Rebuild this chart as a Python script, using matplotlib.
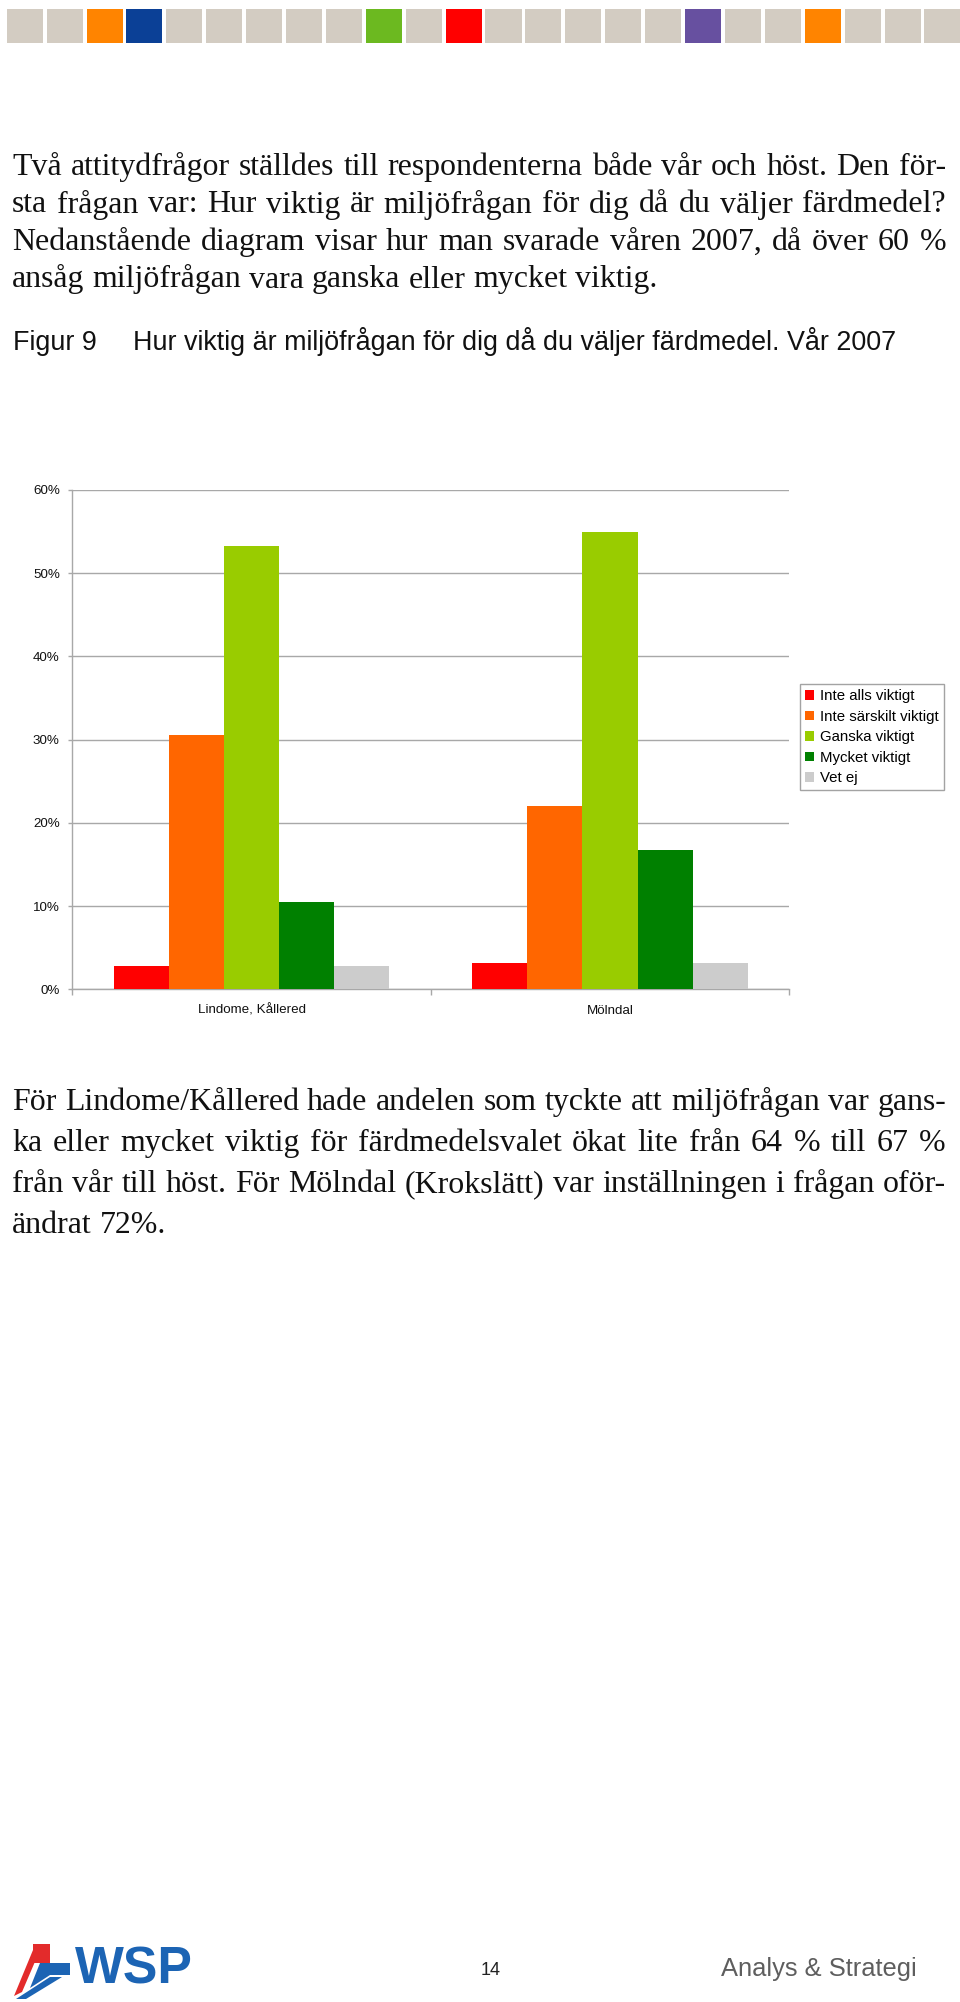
import numpy as np
import matplotlib
matplotlib.use("Agg")
import matplotlib.pyplot as plt
from matplotlib.font_manager import FontProperties
from matplotlib.patches import Rectangle, Polygon
from matplotlib.transforms import Affine2D

W, H = 960, 2002

# chart data (percent)
categories = ["Lindome, Kållered", "Mölndal"]
series_names = ["Inte alls viktigt", "Inte särskilt viktigt", "Ganska viktigt",
                "Mycket viktigt", "Vet ej"]
inte_alls = [2.8, 3.2]
inte_sarskilt = [30.5, 22.0]
ganska = [53.3, 54.9]
mycket = [10.5, 16.7]
vet_ej = [2.8, 3.2]
series_colors = ["#ff0000", "#ff6600", "#99cc00", "#008000", "#cccccc"]
yticks = [0, 10, 20, 30, 40, 50, 60]
ytick_labels = ["0%", "10%", "20%", "30%", "40%", "50%", "60%"]

# page text
para1 = ["Två attitydfrågor ställdes till respondenterna både vår och höst. Den för-",
         "sta frågan var: Hur viktig är miljöfrågan för dig då du väljer färdmedel?",
         "Nedanstående diagram visar hur man svarade våren 2007, då över 60 %",
         "ansåg miljöfrågan vara ganska eller mycket viktig."]
para2 = ["För Lindome/Kållered hade andelen som tyckte att miljöfrågan var gans-",
         "ka eller mycket viktig för färdmedelsvalet ökat lite från 64 % till 67 %",
         "från vår till höst. För Mölndal (Krokslätt) var inställningen i frågan oför-",
         "ändrat 72%."]
fig_label = "Figur 9"
fig_title = "Hur viktig är miljöfrågan för dig då du väljer färdmedel. Vår 2007"

# header strip colours
strip_colors = ["#d3ccc2"] * 24
strip_colors[2] = "#ff8400"
strip_colors[3] = "#0b4096"
strip_colors[9] = "#6cb920"
strip_colors[11] = "#ff0000"
strip_colors[17] = "#6750a0"
strip_colors[20] = "#ff8400"

plt.rcParams["font.family"] = ["Liberation Sans", "DejaVu Sans"]

fig = plt.figure(figsize=(W / 100, H / 100), dpi=100)
fig.patch.set_facecolor("white")
renderer = fig.canvas.get_renderer()
# pixel coords, origin top-left
pix = Affine2D().scale(1 / W, -1 / H).translate(0, 1) + fig.transFigure


def tw(s, fp):
    w, h, d = renderer.get_text_width_height_descent(s, fp, ismath=False)
    return w


def fit_size(s, family, width, weight="normal"):
    fp = FontProperties(family=family, size=10, weight=weight)
    return 10 * width / tw(s, fp)


def put_line(s, x0, x1, y, fp, justify, color="#111111"):
    words = s.split(" ")
    widths = [tw(w, fp) for w in words]
    if justify and len(words) > 1:
        gap = (x1 - x0 - sum(widths)) / (len(words) - 1)
    else:
        gap = tw("a b", fp) - tw("ab", fp)
    x = x0
    for w, wd in zip(words, widths):
        fig.text(x / W, 1 - y / H, w, fontproperties=fp, ha="left",
                 va="baseline", color=color)
        x += wd + gap


# header strip
for i, c in enumerate(strip_colors):
    fig.patches.append(Rectangle((6.7 + 39.9 * i, 9), 36, 34, transform=pix,
                                 facecolor=c, edgecolor="none"))

# body text (serif, justified)
serif = "Liberation Serif"
x_left, x_right = 12, 946
fp0 = FontProperties(family=serif, size=20)
space0 = tw("a b", fp0) - tw("ab", fp0)
nat = max(sum(tw(w, fp0) for w in l.split(" ")) + space0 * (len(l.split(" ")) - 1)
          for l in para1[:-1] + para2[:-1])
body_size = 20 * (x_right - x_left) * 0.995 / nat
fp_body = FontProperties(family=serif, size=body_size)

for i, line in enumerate(para1):
    put_line(line, x_left, x_right, 175 + 37.5 * i, fp_body, i < len(para1) - 1)
for i, line in enumerate(para2):
    put_line(line, x_left, x_right, 1110 + 41 * i, fp_body, i < len(para2) - 1)

# figure caption
cap_size = fit_size(fig_title, "Liberation Sans", 766)
fig.text(13 / W, 1 - 350 / H, fig_label, fontsize=cap_size, ha="left",
         va="baseline", color="#111111")
fig.text(133 / W, 1 - 350 / H, fig_title, fontsize=cap_size, ha="left",
         va="baseline", color="#111111")

# chart
ax = fig.add_axes([72.3 / W, 1 - 989.3 / H, 717 / W, 499.5 / H])
series = [inte_alls, inte_sarskilt, ganska, mycket, vet_ej]
x = np.arange(len(categories)) + 0.5
bw = 0.1537
for i, (vals, c, name) in enumerate(zip(series, series_colors, series_names)):
    ax.bar(x + (i - 2) * bw, vals, width=bw, color=c, label=name,
           edgecolor="none", zorder=3)

grid_c = "#a8a8a8"
ax.set_xlim(0, len(categories))
ax.set_ylim(0, 60)
ax.set_yticks(yticks)
ax.set_yticklabels(ytick_labels)
ax.yaxis.grid(True, color=grid_c, lw=1, zorder=0)
ax.set_axisbelow(True)
ax.set_xticks(np.arange(len(categories) + 1))
ax.set_xticklabels([])
ax.set_xticks(x, minor=True)
ax.set_xticklabels(categories, minor=True)
ax.tick_params(axis="x", which="major", length=4, color=grid_c, width=1)
ax.tick_params(axis="x", which="minor", length=0, pad=11, labelsize=9.6,
               labelcolor="#111111")
ax.tick_params(axis="y", length=3, color=grid_c, width=1, pad=6,
               labelsize=9.6, labelcolor="#111111")
for s in ["top", "right"]:
    ax.spines[s].set_visible(False)
for s in ["left", "bottom"]:
    ax.spines[s].set_color(grid_c)
    ax.spines[s].set_linewidth(1)

leg = fig.legend(loc="upper left", bbox_to_anchor=(800 / W, 1 - 684 / H),
                 bbox_transform=fig.transFigure, fontsize=10.8, frameon=True,
                 fancybox=False, shadow=False, borderaxespad=0, borderpad=0.35,
                 handlelength=0.6, handleheight=0.6, handletextpad=0.35,
                 labelspacing=0.43)
leg.get_frame().set_edgecolor("#8c8c8c")
leg.get_frame().set_linewidth(1)

# footer: logo, page number, department
red_parts = [
    [(33, 1944), (50, 1944), (50, 1963), (33, 1963)],
    [(14, 1996), (33, 1950), (40, 1950), (22, 1992)],
]
blue_parts = [
    [(50, 1963), (70, 1963), (70, 1975), (50, 1975)],
    [(16, 1999), (50, 1977), (62, 1977), (26, 1999)],
    [(40, 1963), (50, 1963), (50, 1975), (30, 1988)],
]
for pts in red_parts:
    fig.patches.append(Polygon(pts, closed=True, transform=pix,
                               facecolor="#e32b2b", edgecolor="none"))
for pts in blue_parts:
    fig.patches.append(Polygon(pts, closed=True, transform=pix,
                               facecolor="#1c64b4", edgecolor="none"))
wsp_size = fit_size("WSP", "Liberation Sans", 118, weight="bold")
fig.text(75 / W, 1 - 1983 / H, "WSP", fontsize=wsp_size, fontweight="bold",
         color="#1c64b4", ha="left", va="baseline")

fig.text(491 / W, 1 - 1975 / H, "14", fontsize=13, ha="center",
         va="baseline", color="#222222")
dept = "Analys & Strategi"
dept_size = fit_size(dept, "Liberation Sans", 196)
fig.text(721 / W, 1 - 1976 / H, dept, fontsize=dept_size, ha="left",
         va="baseline", color="#5e5e5e")

fig.savefig("out.png", dpi=100, facecolor="white")
